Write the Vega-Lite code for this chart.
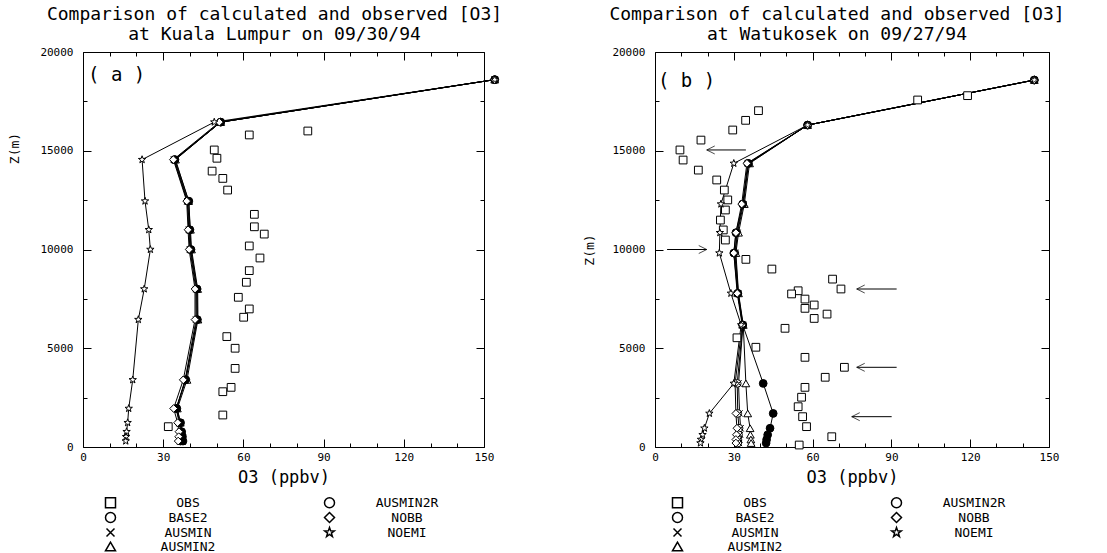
{
  "$schema": "https://vega.github.io/schema/vega-lite/v6.json",
  "background": "white",
  "padding": {"left": 8, "top": 6, "right": 5, "bottom": 0},
  "datasets": {
    "a": [
      {"series":"OBS","z":16000,"o3":84.1},{"series":"OBS","z":15800,"o3":62.2},{"series":"OBS","z":15040,"o3":49.1},{"series":"OBS","z":14620,"o3":50.1},{"series":"OBS","z":13970,"o3":48.3},{"series":"OBS","z":13600,"o3":52.3},{"series":"OBS","z":13010,"o3":54.1},{"series":"OBS","z":11780,"o3":64.1},{"series":"OBS","z":11150,"o3":64.1},{"series":"OBS","z":10780,"o3":67.8},{"series":"OBS","z":10180,"o3":62.2},{"series":"OBS","z":9570,"o3":66.2},{"series":"OBS","z":8930,"o3":62.2},{"series":"OBS","z":8340,"o3":61.1},{"series":"OBS","z":7580,"o3":58.1},{"series":"OBS","z":6990,"o3":62.2},{"series":"OBS","z":6570,"o3":60.1},{"series":"OBS","z":5590,"o3":53.8},{"series":"OBS","z":5000,"o3":56.9},{"series":"OBS","z":3980,"o3":56.9},{"series":"OBS","z":3020,"o3":55.4},{"series":"OBS","z":2800,"o3":52.3},{"series":"OBS","z":1620,"o3":52.3},{"series":"OBS","z":1030,"o3":31.9},
      {"series":"BASE2","z":18600,"o3":154},{"series":"BASE2","z":16450,"o3":51.5},{"series":"BASE2","z":14550,"o3":34.2},{"series":"BASE2","z":12450,"o3":39.2},{"series":"BASE2","z":11000,"o3":39.8},{"series":"BASE2","z":10000,"o3":40.2},{"series":"BASE2","z":8000,"o3":42.5},{"series":"BASE2","z":6450,"o3":42.6},{"series":"BASE2","z":3400,"o3":38.5},{"series":"BASE2","z":1950,"o3":34.8},{"series":"BASE2","z":1230,"o3":36.0},{"series":"BASE2","z":775,"o3":36.7},{"series":"BASE2","z":520,"o3":36.7},{"series":"BASE2","z":300,"o3":36.5},
      {"series":"AUSMIN","z":18600,"o3":154},{"series":"AUSMIN","z":16450,"o3":51.5},{"series":"AUSMIN","z":14550,"o3":34.0},{"series":"AUSMIN","z":12450,"o3":39.0},{"series":"AUSMIN","z":11000,"o3":39.6},{"series":"AUSMIN","z":10000,"o3":40.0},{"series":"AUSMIN","z":8000,"o3":42.2},{"series":"AUSMIN","z":6450,"o3":42.3},{"series":"AUSMIN","z":3400,"o3":38.2},{"series":"AUSMIN","z":1950,"o3":34.9},{"series":"AUSMIN","z":1230,"o3":36.2},{"series":"AUSMIN","z":775,"o3":36.5},{"series":"AUSMIN","z":520,"o3":36.4},{"series":"AUSMIN","z":300,"o3":36.3},
      {"series":"AUSMIN2","z":18600,"o3":154},{"series":"AUSMIN2","z":16450,"o3":51.5},{"series":"AUSMIN2","z":14550,"o3":34.6},{"series":"AUSMIN2","z":12450,"o3":39.5},{"series":"AUSMIN2","z":11000,"o3":40.2},{"series":"AUSMIN2","z":10000,"o3":40.6},{"series":"AUSMIN2","z":8000,"o3":42.9},{"series":"AUSMIN2","z":6450,"o3":43.0},{"series":"AUSMIN2","z":3400,"o3":38.9},{"series":"AUSMIN2","z":1950,"o3":35.3},{"series":"AUSMIN2","z":1230,"o3":36.4},{"series":"AUSMIN2","z":775,"o3":37.1},{"series":"AUSMIN2","z":520,"o3":37.0},{"series":"AUSMIN2","z":300,"o3":36.9},
      {"series":"AUSMIN2R","z":18600,"o3":154},{"series":"AUSMIN2R","z":16450,"o3":51.5},{"series":"AUSMIN2R","z":14550,"o3":34.4},{"series":"AUSMIN2R","z":12450,"o3":39.6},{"series":"AUSMIN2R","z":11000,"o3":40.0},{"series":"AUSMIN2R","z":10000,"o3":40.4},{"series":"AUSMIN2R","z":8000,"o3":42.7},{"series":"AUSMIN2R","z":6450,"o3":42.8},{"series":"AUSMIN2R","z":3400,"o3":38.3},{"series":"AUSMIN2R","z":1950,"o3":35.1},{"series":"AUSMIN2R","z":1230,"o3":36.5},{"series":"AUSMIN2R","z":775,"o3":36.9},{"series":"AUSMIN2R","z":520,"o3":37.2},{"series":"AUSMIN2R","z":300,"o3":37.4},
      {"series":"NOBB","z":18600,"o3":154},{"series":"NOBB","z":16450,"o3":51.0},{"series":"NOBB","z":14550,"o3":33.8},{"series":"NOBB","z":12450,"o3":38.8},{"series":"NOBB","z":11000,"o3":39.3},{"series":"NOBB","z":10000,"o3":39.7},{"series":"NOBB","z":8000,"o3":41.9},{"series":"NOBB","z":6450,"o3":41.9},{"series":"NOBB","z":3400,"o3":37.5},{"series":"NOBB","z":1950,"o3":33.9},{"series":"NOBB","z":1230,"o3":35.4},{"series":"NOBB","z":775,"o3":35.9},{"series":"NOBB","z":520,"o3":35.8},{"series":"NOBB","z":300,"o3":35.6},
      {"series":"NOEMI","z":18600,"o3":154},{"series":"NOEMI","z":16450,"o3":49.1},{"series":"NOEMI","z":14550,"o3":22.1},{"series":"NOEMI","z":12450,"o3":23.2},{"series":"NOEMI","z":11000,"o3":24.6},{"series":"NOEMI","z":10000,"o3":25.2},{"series":"NOEMI","z":8000,"o3":22.9},{"series":"NOEMI","z":6450,"o3":20.7},{"series":"NOEMI","z":3400,"o3":18.6},{"series":"NOEMI","z":1950,"o3":17.1},{"series":"NOEMI","z":1230,"o3":16.7},{"series":"NOEMI","z":775,"o3":16.3},{"series":"NOEMI","z":520,"o3":16.1},{"series":"NOEMI","z":300,"o3":16.0}
    ],
    "b": [
      {"series":"OBS","z":17790,"o3":119.0},{"series":"OBS","z":17570,"o3":100.0},{"series":"OBS","z":17030,"o3":39.4},{"series":"OBS","z":16540,"o3":34.5},{"series":"OBS","z":16050,"o3":29.6},{"series":"OBS","z":15540,"o3":17.5},{"series":"OBS","z":15040,"o3":9.5},{"series":"OBS","z":14530,"o3":10.7},{"series":"OBS","z":14020,"o3":16.5},{"series":"OBS","z":13520,"o3":23.5},{"series":"OBS","z":13010,"o3":26.4},{"series":"OBS","z":12510,"o3":27.7},{"series":"OBS","z":12000,"o3":26.8},{"series":"OBS","z":11490,"o3":24.9},{"series":"OBS","z":10990,"o3":26.0},{"series":"OBS","z":10480,"o3":26.8},{"series":"OBS","z":9500,"o3":34.6},{"series":"OBS","z":9010,"o3":44.5},{"series":"OBS","z":8500,"o3":67.6},{"series":"OBS","z":8000,"o3":70.8},{"series":"OBS","z":7910,"o3":54.5},{"series":"OBS","z":7750,"o3":52.0},{"series":"OBS","z":7490,"o3":57.1},{"series":"OBS","z":7190,"o3":60.6},{"series":"OBS","z":7020,"o3":57.1},{"series":"OBS","z":6730,"o3":65.5},{"series":"OBS","z":6510,"o3":60.6},{"series":"OBS","z":6010,"o3":49.5},{"series":"OBS","z":5530,"o3":31.2},{"series":"OBS","z":5050,"o3":38.4},{"series":"OBS","z":4540,"o3":57.1},{"series":"OBS","z":4035,"o3":72.1},{"series":"OBS","z":3530,"o3":64.8},{"series":"OBS","z":3020,"o3":57.1},{"series":"OBS","z":2520,"o3":55.8},{"series":"OBS","z":2040,"o3":54.5},{"series":"OBS","z":1535,"o3":56.2},{"series":"OBS","z":1030,"o3":57.7},{"series":"OBS","z":520,"o3":67.3},{"series":"OBS","z":100,"o3":54.9},
      {"series":"BASE2","z":18580,"o3":144.4},{"series":"BASE2","z":16300,"o3":58.1},{"series":"BASE2","z":14360,"o3":35.3},{"series":"BASE2","z":12300,"o3":33.4},{"series":"BASE2","z":10850,"o3":31.2},{"series":"BASE2","z":9820,"o3":30.4},{"series":"BASE2","z":7780,"o3":31.5},{"series":"BASE2","z":6180,"o3":33.4},{"series":"BASE2","z":3220,"o3":31.3},{"series":"BASE2","z":1700,"o3":31.5},{"series":"BASE2","z":950,"o3":32.0},{"series":"BASE2","z":620,"o3":31.8},{"series":"BASE2","z":380,"o3":31.5},{"series":"BASE2","z":200,"o3":31.5},
      {"series":"AUSMIN","z":18580,"o3":144.4},{"series":"AUSMIN","z":16300,"o3":58.1},{"series":"AUSMIN","z":14360,"o3":35.6},{"series":"AUSMIN","z":12300,"o3":33.7},{"series":"AUSMIN","z":10850,"o3":31.4},{"series":"AUSMIN","z":9820,"o3":30.6},{"series":"AUSMIN","z":7780,"o3":31.7},{"series":"AUSMIN","z":6180,"o3":33.5},{"series":"AUSMIN","z":3220,"o3":31.8},{"series":"AUSMIN","z":1700,"o3":32.2},{"series":"AUSMIN","z":950,"o3":32.6},{"series":"AUSMIN","z":620,"o3":32.4},{"series":"AUSMIN","z":380,"o3":32.2},{"series":"AUSMIN","z":200,"o3":32.0},
      {"series":"AUSMIN2","z":18580,"o3":144.4},{"series":"AUSMIN2","z":16300,"o3":58.1},{"series":"AUSMIN2","z":14360,"o3":36.0},{"series":"AUSMIN2","z":12300,"o3":34.0},{"series":"AUSMIN2","z":10850,"o3":31.8},{"series":"AUSMIN2","z":9820,"o3":30.8},{"series":"AUSMIN2","z":7780,"o3":31.8},{"series":"AUSMIN2","z":6180,"o3":33.6},{"series":"AUSMIN2","z":3220,"o3":34.6},{"series":"AUSMIN2","z":1700,"o3":35.3},{"series":"AUSMIN2","z":950,"o3":36.2},{"series":"AUSMIN2","z":620,"o3":36.3},{"series":"AUSMIN2","z":380,"o3":36.5},{"series":"AUSMIN2","z":200,"o3":36.6},
      {"series":"AUSMIN2R","z":18580,"o3":144.4},{"series":"AUSMIN2R","z":16300,"o3":58.1},{"series":"AUSMIN2R","z":14360,"o3":35.6},{"series":"AUSMIN2R","z":12300,"o3":33.4},{"series":"AUSMIN2R","z":10850,"o3":30.8},{"series":"AUSMIN2R","z":9820,"o3":30.0},{"series":"AUSMIN2R","z":7780,"o3":31.5},{"series":"AUSMIN2R","z":6180,"o3":33.4},{"series":"AUSMIN2R","z":3220,"o3":41.2},{"series":"AUSMIN2R","z":1700,"o3":45.0},{"series":"AUSMIN2R","z":950,"o3":43.8},{"series":"AUSMIN2R","z":620,"o3":42.9},{"series":"AUSMIN2R","z":380,"o3":42.5},{"series":"AUSMIN2R","z":200,"o3":42.3},
      {"series":"NOBB","z":18580,"o3":144.4},{"series":"NOBB","z":16300,"o3":58.1},{"series":"NOBB","z":14360,"o3":35.0},{"series":"NOBB","z":12300,"o3":33.0},{"series":"NOBB","z":10850,"o3":30.8},{"series":"NOBB","z":9820,"o3":30.0},{"series":"NOBB","z":7780,"o3":31.3},{"series":"NOBB","z":6180,"o3":33.2},{"series":"NOBB","z":3220,"o3":30.5},{"series":"NOBB","z":1700,"o3":30.8},{"series":"NOBB","z":950,"o3":31.2},{"series":"NOBB","z":620,"o3":31.0},{"series":"NOBB","z":380,"o3":30.8},{"series":"NOBB","z":200,"o3":30.8},
      {"series":"NOEMI","z":18580,"o3":144.4},{"series":"NOEMI","z":16300,"o3":58.1},{"series":"NOEMI","z":14360,"o3":30.0},{"series":"NOEMI","z":12300,"o3":25.1},{"series":"NOEMI","z":10850,"o3":24.7},{"series":"NOEMI","z":9820,"o3":24.5},{"series":"NOEMI","z":7780,"o3":28.9},{"series":"NOEMI","z":6180,"o3":32.8},{"series":"NOEMI","z":3220,"o3":30.0},{"series":"NOEMI","z":1700,"o3":20.7},{"series":"NOEMI","z":950,"o3":18.8},{"series":"NOEMI","z":620,"o3":18.1},{"series":"NOEMI","z":380,"o3":17.5},{"series":"NOEMI","z":200,"o3":17.3}
    ],
    "arrowsB": [
      {"x_from":34.6,"x_to":19.7,"z":15040,"dir":"left"},
      {"x_from":4.6,"x_to":19.7,"z":10000,"dir":"right"},
      {"x_from":92,"x_to":76.8,"z":8000,"dir":"left"},
      {"x_from":92,"x_to":76.8,"z":4035,"dir":"left"},
      {"x_from":90.1,"x_to":74.9,"z":1535,"dir":"left"}
    ]
  },
  "hconcat": [
    {
      "width": 401,
      "height": 395,
      "title": {"text": ["Comparison of calculated and observed [O3]", "at Kuala Lumpur on 09/30/94"], "dx": -9},
      "data": {"name": "a"},
      "resolve": {"axis": {"x": "independent", "y": "independent"}},
      "layer": [
        {
          "transform": [{"filter": "datum.series !== 'OBS'"}],
          "mark": {"type": "line", "color": "black", "strokeWidth": 1},
          "encoding": {
            "x": {"field": "o3", "type": "quantitative", "scale": {"domain": [0, 150], "nice": false},
              "axis": {"orient": "top", "labels": false, "title": null, "values": [0,10,20,30,40,50,60,70,80,90,100,110,120,130,140,150], "tickSize": {"condition": {"test": "datum.value % 30 === 0", "value": -8}, "value": -4}}},
            "y": {"field": "z", "type": "quantitative", "scale": {"domain": [0, 20000], "nice": false},
              "axis": {"orient": "right", "labels": false, "title": null, "values": [0,2500,5000,7500,10000,12500,15000,17500,20000], "tickSize": {"condition": {"test": "datum.value % 5000 === 0", "value": -8}, "value": -4}}},
            "detail": {"field": "series"},
            "order": {"field": "z", "type": "quantitative"}
          }
        },
        {
          "mark": {"type": "point", "filled": true, "stroke": "black", "strokeWidth": 1, "opacity": 1, "size": 60},
          "encoding": {
            "x": {"field": "o3", "type": "quantitative",
              "axis": {"orient": "bottom", "title": "O3 (ppbv)", "format": "d", "values": [0,10,20,30,40,50,60,70,80,90,100,110,120,130,140,150], "labelExpr": "datum.value % 30 === 0 ? datum.label : ''", "tickSize": {"condition": {"test": "datum.value % 30 === 0", "value": -8}, "value": -4}, "labelPadding": 12, "titlePadding": 3}},
            "y": {"field": "z", "type": "quantitative",
              "axis": {"orient": "left", "title": "Z(m)", "format": "d", "values": [0,2500,5000,7500,10000,12500,15000,17500,20000], "labelExpr": "datum.value % 5000 === 0 ? datum.label : ''", "tickSize": {"condition": {"test": "datum.value % 5000 === 0", "value": -8}, "value": -4}, "labelPadding": 18, "titleFontSize": 13, "titleY": 96, "titleX": -62}},
            "shape": {"field": "series", "type": "nominal",
              "scale": {"domain": ["OBS","BASE2","AUSMIN","AUSMIN2","AUSMIN2R","NOBB","NOEMI"], "range": ["square","circle","M-0.8,-0.8L0.8,0.8M-0.8,0.8L0.8,-0.8","triangle-up","circle","diamond","M0,-1L0.235,-0.324L0.951,-0.309L0.38,0.124L0.588,0.809L0,0.4L-0.588,0.809L-0.38,0.124L-0.951,-0.309L-0.235,-0.324Z"]},
              "legend": {"title": null, "orient": "none", "legendX": 21, "legendY": 444, "columns": 2, "symbolSize": 100, "labelAlign": "center", "labelOffset": 71, "columnPadding": 105, "rowPadding": -2.5,
                "encode": {"symbols": {
                  "fill": {"condition": {"test": "datum.value === 'AUSMIN2R'", "value": "black"}, "value": "transparent"},
                  "stroke": {"value": "black"},
                  "shape": {"condition": [
                    {"test": "datum.value === 'OBS'", "value": "M-0.8,-0.8H0.8V0.8H-0.8Z"},
                    {"test": "datum.value === 'AUSMIN2R'", "value": "M-2.8,0H2.8M-0.6,0A0.6,0.6 0 1,1 0.6,0A0.6,0.6 0 1,1 -0.6,0Z"},
                    {"test": "datum.value === 'BASE2'", "value": "M-2.8,0H-1M1,0H2.8M-1,0A1,1 0 1,1 1,0A1,1 0 1,1 -1,0Z"},
                    {"test": "datum.value === 'NOBB'", "value": "M-2.8,0H-0.7M0.7,0H2.8M0,-0.7L0.7,0L0,0.7L-0.7,0Z"},
                    {"test": "datum.value === 'AUSMIN'", "value": "M-2.8,0H2.8M-0.8,-0.8L0.8,0.8M-0.8,0.8L0.8,-0.8"},
                    {"test": "datum.value === 'NOEMI'", "value": "M-2.8,0.1H-0.6M0.6,0.1H2.8M0,-1L0.235,-0.324L0.951,-0.309L0.38,0.124L0.588,0.809L0,0.4L-0.588,0.809L-0.38,0.124L-0.951,-0.309L-0.235,-0.324Z"}
                  ], "value": "M-2.8,0.6H2.8M0,-1L0.9,0.6L-0.9,0.6Z"}
                }}}},
            "fill": {"condition": {"test": "datum.series === 'AUSMIN2R'", "value": "black"}, "value": "white"}
          }
        },
        {
          "data": {"values": [{"label": "( a )"}]},
          "mark": {"type": "text", "align": "left", "baseline": "top", "fontSize": 19, "font": "DejaVu Sans Mono"},
          "encoding": {
            "x": {"datum": 1.9, "type": "quantitative", "axis": null},
            "y": {"datum": 19300, "type": "quantitative", "axis": null},
            "text": {"field": "label"}
          }
        }
      ]
    },
    {
      "width": 394,
      "height": 395,
      "title": {"text": ["Comparison of calculated and observed [O3]", "at Watukosek on 09/27/94"], "dx": -15},
      "data": {"name": "b"},
      "resolve": {"axis": {"x": "independent", "y": "independent"}},
      "layer": [
        {
          "transform": [{"filter": "datum.series !== 'OBS'"}],
          "mark": {"type": "line", "color": "black", "strokeWidth": 1},
          "encoding": {
            "x": {"field": "o3", "type": "quantitative", "scale": {"domain": [0, 150], "nice": false},
              "axis": {"orient": "top", "labels": false, "title": null, "values": [0,10,20,30,40,50,60,70,80,90,100,110,120,130,140,150], "tickSize": {"condition": {"test": "datum.value % 30 === 0", "value": -8}, "value": -4}}},
            "y": {"field": "z", "type": "quantitative", "scale": {"domain": [0, 20000], "nice": false},
              "axis": {"orient": "right", "labels": false, "title": null, "values": [0,2500,5000,7500,10000,12500,15000,17500,20000], "tickSize": {"condition": {"test": "datum.value % 5000 === 0", "value": -8}, "value": -4}}},
            "detail": {"field": "series"},
            "order": {"field": "z", "type": "quantitative"}
          }
        },
        {
          "mark": {"type": "point", "filled": true, "stroke": "black", "strokeWidth": 1, "opacity": 1, "size": 60},
          "encoding": {
            "x": {"field": "o3", "type": "quantitative",
              "axis": {"orient": "bottom", "title": "O3 (ppbv)", "format": "d", "values": [0,10,20,30,40,50,60,70,80,90,100,110,120,130,140,150], "labelExpr": "datum.value % 30 === 0 ? datum.label : ''", "tickSize": {"condition": {"test": "datum.value % 30 === 0", "value": -8}, "value": -4}, "labelPadding": 12, "titlePadding": 3}},
            "y": {"field": "z", "type": "quantitative",
              "axis": {"orient": "left", "title": "Z(m)", "format": "d", "values": [0,2500,5000,7500,10000,12500,15000,17500,20000], "labelExpr": "datum.value % 5000 === 0 ? datum.label : ''", "tickSize": {"condition": {"test": "datum.value % 5000 === 0", "value": -8}, "value": -4}, "labelPadding": 18, "titleFontSize": 13, "titleX": -59}},
            "shape": {"field": "series", "type": "nominal",
              "scale": {"domain": ["OBS","BASE2","AUSMIN","AUSMIN2","AUSMIN2R","NOBB","NOEMI"], "range": ["square","circle","M-0.8,-0.8L0.8,0.8M-0.8,0.8L0.8,-0.8","triangle-up","circle","diamond","M0,-1L0.235,-0.324L0.951,-0.309L0.38,0.124L0.588,0.809L0,0.4L-0.588,0.809L-0.38,0.124L-0.951,-0.309L-0.235,-0.324Z"]},
              "legend": {"title": null, "orient": "none", "legendX": 16, "legendY": 444, "columns": 2, "symbolSize": 100, "labelAlign": "center", "labelOffset": 71, "columnPadding": 105, "rowPadding": -2.5,
                "encode": {"symbols": {
                  "fill": {"condition": {"test": "datum.value === 'AUSMIN2R'", "value": "black"}, "value": "transparent"},
                  "stroke": {"value": "black"},
                  "shape": {"condition": [
                    {"test": "datum.value === 'OBS'", "value": "M-0.8,-0.8H0.8V0.8H-0.8Z"},
                    {"test": "datum.value === 'AUSMIN2R'", "value": "M-2.8,0H2.8M-0.6,0A0.6,0.6 0 1,1 0.6,0A0.6,0.6 0 1,1 -0.6,0Z"},
                    {"test": "datum.value === 'BASE2'", "value": "M-2.8,0H-1M1,0H2.8M-1,0A1,1 0 1,1 1,0A1,1 0 1,1 -1,0Z"},
                    {"test": "datum.value === 'NOBB'", "value": "M-2.8,0H-0.7M0.7,0H2.8M0,-0.7L0.7,0L0,0.7L-0.7,0Z"},
                    {"test": "datum.value === 'AUSMIN'", "value": "M-2.8,0H2.8M-0.8,-0.8L0.8,0.8M-0.8,0.8L0.8,-0.8"},
                    {"test": "datum.value === 'NOEMI'", "value": "M-2.8,0.1H-0.6M0.6,0.1H2.8M0,-1L0.235,-0.324L0.951,-0.309L0.38,0.124L0.588,0.809L0,0.4L-0.588,0.809L-0.38,0.124L-0.951,-0.309L-0.235,-0.324Z"}
                  ], "value": "M-2.8,0.6H2.8M0,-1L0.9,0.6L-0.9,0.6Z"}
                }}}},
            "fill": {"condition": {"test": "datum.series === 'AUSMIN2R'", "value": "black"}, "value": "white"}
          }
        },
        {
          "data": {"name": "arrowsB"},
          "mark": {"type": "rule", "color": "black", "strokeWidth": 1},
          "encoding": {
            "x": {"field": "x_from", "type": "quantitative", "axis": null},
            "x2": {"field": "x_to"},
            "y": {"field": "z", "type": "quantitative", "axis": null}
          }
        },
        {
          "data": {"name": "arrowsB"},
          "transform": [{"filter": "datum.dir === 'left'"}],
          "mark": {"type": "point", "filled": false, "stroke": "black", "strokeWidth": 1, "size": 64, "shape": "M2,-1L0,0L2,1"},
          "encoding": {
            "x": {"field": "x_to", "type": "quantitative", "axis": null},
            "y": {"field": "z", "type": "quantitative", "axis": null}
          }
        },
        {
          "data": {"name": "arrowsB"},
          "transform": [{"filter": "datum.dir === 'right'"}],
          "mark": {"type": "point", "filled": false, "stroke": "black", "strokeWidth": 1, "size": 64, "shape": "M-2,-1L0,0L-2,1"},
          "encoding": {
            "x": {"field": "x_to", "type": "quantitative", "axis": null},
            "y": {"field": "z", "type": "quantitative", "axis": null}
          }
        },
        {
          "data": {"values": [{"label": "( b )"}]},
          "mark": {"type": "text", "align": "left", "baseline": "top", "fontSize": 19, "font": "DejaVu Sans Mono"},
          "encoding": {
            "x": {"datum": 1.1, "type": "quantitative", "axis": null},
            "y": {"datum": 19000, "type": "quantitative", "axis": null},
            "text": {"field": "label"}
          }
        }
      ]
    }
  ],
  "spacing": 171,
  "bounds": "flush",
  "resolve": {"scale": {"shape": "independent"}, "legend": {"shape": "independent"}},
  "config": {
    "font": "DejaVu Sans Mono",
    "view": {"stroke": null},
    "axis": {"grid": false, "domainColor": "black", "tickColor": "black", "labelColor": "black", "titleColor": "black", "labelFont": "DejaVu Sans Mono", "titleFont": "DejaVu Sans Mono", "labelFontSize": 11, "titleFontSize": 17, "titleFontWeight": "normal", "labelFlush": false, "labelOverlap": false, "domainWidth": 1, "tickWidth": 1},
    "title": {"font": "DejaVu Sans Mono", "fontSize": 18, "fontWeight": "normal", "anchor": "middle", "offset": 2, "lineHeight": 20, "color": "black"},
    "legend": {"labelFont": "DejaVu Sans Mono", "labelFontSize": 13, "labelColor": "black"}
  }
}
